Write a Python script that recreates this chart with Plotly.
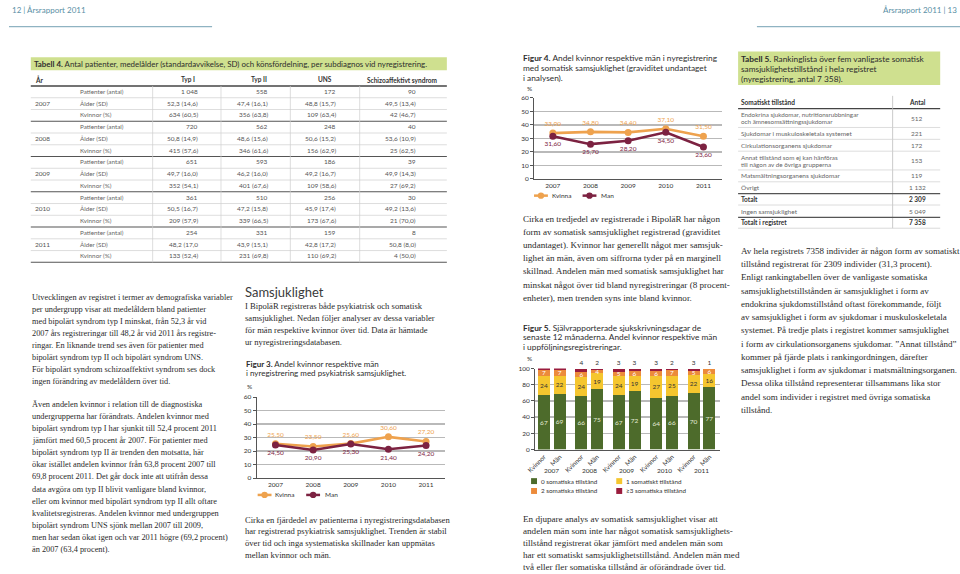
import plotly.graph_objects as go

# ======================= DATA =======================
years = ["2007", "2008", "2009", "2010", "2011"]

# Figur 3 – psykiatrisk samsjuklighet (%)
fig3_kvinna = [25.50, 23.50, 25.60, 30.60, 27.20]
fig3_man = [24.50, 20.90, 25.30, 21.40, 24.20]

# Figur 4 – somatisk samsjuklighet (%)
fig4_kvinna = [33.90, 34.80, 34.40, 37.10, 31.50]
fig4_man = [31.60, 25.70, 28.20, 34.50, 23.60]

# Figur 5 – stacked shares, order: 2007 K, 2007 M, 2008 K, ...
fig5_sex = ["Kvinnor", "Män"]
fig5_names = ["0 somatiska tillstånd", "1 somatiskt tillstånd",
              "2 somatiska tillstånd", "≥3 somatiska tillstånd"]
fig5_s0 = [67, 69, 66, 75, 67, 72, 64, 66, 70, 77]
fig5_s1 = [24, 22, 24, 19, 24, 19, 27, 25, 22, 16]
fig5_s2 = [7, 7, 6, 4, 5, 6, 6, 7, 5, 6]
fig5_s3 = [3, 3, 4, 2, 3, 3, 3, 2, 3, 1]

# Tabell 4
t4_rows = ["Patienter (antal)", "Ålder (SD)", "Kvinnor (%)"]
t4_cols = ["Typ I", "Typ II", "UNS", "Schizoaffektivt syndrom"]
t4_typ1 = ["1 048", "52,3 (14,6)", "634 (60,5)", "720", "50,8 (14,9)", "415 (57,6)",
           "651", "49,7 (16,0)", "352 (54,1)", "361", "50,5 (16,7)", "209 (57,9)",
           "254", "48,2 (17,0", "133 (52,4)"]
t4_typ2 = ["558", "47,4 (16,1)", "356 (63,8)", "562", "48,6 (15,6)", "346 (61,6)",
           "593", "46,2 (16,0)", "401 (67,6)", "510", "47,2 (15,8)", "339 (66,5)",
           "331", "43,9 (15,1)", "231 (69,8)"]
t4_uns = ["172", "48,8 (15,7)", "109 (63,4)", "248", "50,6 (15,2)", "156 (62,9)",
          "186", "49,2 (16,7)", "109 (58,6)", "256", "45,9 (17,4)", "173 (67,6)",
          "159", "42,8 (17,2)", "110 (69,2)"]
t4_schizo = ["90", "49,5 (13,4)", "42 (46,7)", "40", "53,6 (10,9)", "25 (62,5)",
             "39", "49,9 (14,3)", "27 (69,2)", "30", "49,2 (13,6)", "21 (70,0)",
             "8", "50,8 (8,0)", "4 (50,0)"]

# Tabell 5
t5_conditions = [["Endokrina sjukdomar, nutritionsrubbningar", "och ämnesomsättningssjukdomar"],
                 ["Sjukdomar i muskuloskeletala systemet"],
                 ["Cirkulationsorganens sjukdomar"],
                 ["Annat tillstånd som ej kan hänföras", "till någon av de övriga grupperna"],
                 ["Matsmältningsorganens sjukdomar"],
                 ["Övrigt"],
                 ["Totalt"],
                 ["Ingen samsjuklighet"],
                 ["Totalt i registret"]]
t5_counts = ["512", "221", "172", "153", "119", "1 132", "2 309", "5 049", "7 358"]

# Body texts
txt_left1 = ["Utvecklingen av registret i termer av demografiska variabler",
             "per undergrupp visar att medelåldern bland patienter",
             "med bipolärt syndrom typ I minskat, från 52,3 år vid",
             "2007 års registreringar till 48,2 år vid 2011 års registre-",
             "ringar. En liknande trend ses även för patienter med",
             "bipolärt syndrom typ II och bipolärt syndrom UNS.",
             "För bipolärt syndrom schizoaffektivt syndrom ses dock",
             "ingen förändring av medelåldern över tid."]
txt_left2 = ["Även andelen kvinnor i relation till de diagnostiska",
             "undergrupperna har förändrats. Andelen kvinnor med",
             "bipolärt syndrom typ I har sjunkit till 52,4 procent 2011",
             "jämfört med 60,5 procent år 2007. För patienter med",
             "bipolärt syndrom typ II är trenden den motsatta, här",
             "ökar istället andelen kvinnor från 63,8 procent 2007 till",
             "69,8 procent 2011. Det går dock inte att utifrån dessa",
             "data avgöra om typ II blivit vanligare bland kvinnor,",
             "eller om kvinnor med bipolärt syndrom typ II allt oftare",
             "kvalitetsregistreras. Andelen kvinnor med undergruppen",
             "bipolärt syndrom UNS sjönk mellan 2007 till 2009,",
             "men har sedan ökat igen och var 2011 högre (69,2 procent)",
             "än 2007 (63,4 procent)."]
txt_mid1 = ["I BipoläR registreras både psykiatrisk och somatisk",
            "samsjuklighet. Nedan följer analyser av dessa variabler",
            "för män respektive kvinnor över tid. Data är hämtade",
            "ur nyregistreringsdatabasen."]
txt_mid2 = ["Cirka en fjärdedel av patienterna i nyregistreringsdatabasen",
            "har registrerad psykiatrisk samsjuklighet. Trenden är stabil",
            "över tid och inga systematiska skillnader kan uppmätas",
            "mellan kvinnor och män."]
txt_fig4 = ["Cirka en tredjedel av registrerade i BipoläR har någon",
            "form av somatisk samsjuklighet registrerad (graviditet",
            "undantaget). Kvinnor har generellt något mer samsjuk-",
            "lighet än män, även om siffrorna tyder på en marginell",
            "skillnad. Andelen män med somatisk samsjuklighet har",
            "minskat något över tid bland nyregistreringar (8 procent-",
            "enheter), men trenden syns inte bland kvinnor."]
txt_fig5 = ["En djupare analys av somatisk samsjuklighet visar att",
            "andelen män som inte har något somatisk samsjuklighets-",
            "tillstånd registrerat ökar jämfört med andelen män som",
            "har ett somatiskt samsjuklighetstillstånd. Andelen män med",
            "två eller fler somatiska tillstånd är oförändrade över tid."]
txt_t5 = ["Av hela registrets 7358 individer är någon form av somatiskt",
          "tillstånd registrerat för 2309 individer (31,3 procent).",
          "Enligt rankingtabellen över de vanligaste somatiska",
          "samsjuklighetstillstånden är samsjuklighet i form av",
          "endokrina sjukdomstillstånd oftast förekommande, följt",
          "av samsjuklighet i form av sjukdomar i muskuloskeletala",
          "systemet. På tredje plats i registret kommer samsjuklighet",
          "i form av cirkulationsorganens sjukdomar. ”Annat tillstånd”",
          "kommer på fjärde plats i rankingordningen, därefter",
          "samsjuklighet i form av sjukdomar i matsmältningsorganen.",
          "Dessa olika tillstånd representerar tillsammans lika stor",
          "andel som individer i registret med övriga somatiska",
          "tillstånd."]

# ======================= STYLE / HELPERS =======================
W, H = 960, 574
SERIF = "Liberation Serif"
SANS = "Lato"
ORANGE = "#eea24e"
MAROON = "#7c2241"
GREEN_BAR = "#cfe08f"
C5 = ["#4d6b2b", "#f5c62f", "#ec8b3b", "#9a1c3d"]


def X(p):
    return p / W


def Y(p):
    return 1 - p / H


anns, shapes = [], []


def ann(text, x, y, size=7, family=SANS, color="#333", xanchor="left", **kw):
    anns.append(dict(text=text, x=X(x), y=Y(y), xref="paper", yref="paper",
                     xanchor=xanchor, yanchor="middle", showarrow=False,
                     font=dict(family=family, size=size, color=color), **kw))


def hline(x0, x1, y, color, width):
    shapes.append(dict(type="line", xref="paper", yref="paper", x0=X(x0), x1=X(x1),
                       y0=Y(y), y1=Y(y), line=dict(color=color, width=width)))


def vline(x, y0, y1, color, width):
    shapes.append(dict(type="line", xref="paper", yref="paper", x0=X(x), x1=X(x),
                       y0=Y(y0), y1=Y(y1), line=dict(color=color, width=width)))


def rect(x0, y0, x1, y1, fill):
    shapes.append(dict(type="rect", xref="paper", yref="paper", x0=X(x0), x1=X(x1),
                       y0=Y(y1), y1=Y(y0), fillcolor=fill, line=dict(width=0)))


def circle(cx, cy, r, fill):
    shapes.append(dict(type="circle", xref="paper", yref="paper", x0=X(cx - r), x1=X(cx + r),
                       y0=Y(cy + r), y1=Y(cy - r), fillcolor=fill, line=dict(width=0)))


def para(lines, x, y0, dy, size):
    for i, t in enumerate(lines):
        ann(t, x, y0 + i * dy, size=size, family=SERIF, color="#2a2a2a")


def fmt(v):
    return f"{v:.2f}".replace(".", ",")


# ======================= TRACES =======================
fig = go.Figure()

for vals, col, pos, ax in [(fig3_kvinna, ORANGE, "top center", ("x", "y")),
                           (fig3_man, MAROON, "bottom center", ("x", "y")),
                           (fig4_kvinna, ORANGE, "top center", ("x2", "y2")),
                           (fig4_man, MAROON, "bottom center", ("x2", "y2"))]:
    fig.add_trace(go.Scatter(
        x=years, y=vals, xaxis=ax[0], yaxis=ax[1], mode="lines+markers+text",
        line=dict(color=col, width=2.6), marker=dict(color=col, size=7),
        text=[fmt(v) for v in vals], textposition=pos,
        textfont=dict(family=SANS, size=6.5, color=col), cliponaxis=False,
        showlegend=False, hoverinfo="skip"))

bar_x = [g + off for g in range(len(years)) for off in (-0.21, 0.21)]
series5 = [fig5_s0, fig5_s1, fig5_s2, fig5_s3]
txtcol = ["#e6ecd9", "#333333", "#ffffff", "#333333"]
for i, vals in enumerate(series5):
    fig.add_trace(go.Bar(
        x=bar_x, y=vals, width=0.32, xaxis="x3", yaxis="y3", name=fig5_names[i],
        marker=dict(color=C5[i], line=dict(width=0)),
        text=[str(v) for v in vals],
        textposition="outside" if i == 3 else "inside",
        insidetextanchor="middle", textangle=0, constraintext="none",
        textfont=dict(family=SANS, size=6.5, color=txtcol[i]),
        cliponaxis=(i != 3), showlegend=False, hoverinfo="skip"))

# ======================= AXES =======================
tickf = dict(family=SANS, size=6.5, color="#333")
line_ax = dict(showline=True, linecolor="#555", linewidth=1, tickfont=tickf)
yax = dict(dtick=10, range=[0, 60], showgrid=True, gridcolor="#b9b9b9", gridwidth=1.4,
           ticks="outside", ticklen=3, tickcolor="#555", zeroline=False, **line_ax)
xax = dict(type="category", range=[-0.5, 4.5], showgrid=False, ticks="", **line_ax)

layout = dict(
    width=W, height=574, margin=dict(l=0, r=0, t=0, b=0),
    paper_bgcolor="white", plot_bgcolor="white", barmode="stack", showlegend=False,
    hovermode=False,
    xaxis=dict(domain=[X(250), X(440)], anchor="y", **xax),
    yaxis=dict(domain=[Y(480), Y(398)], anchor="x", **yax),
    xaxis2=dict(domain=[X(530), X(720)], anchor="y2", **xax),
    yaxis2=dict(domain=[Y(177), Y(95)], anchor="x2", **yax),
    xaxis3=dict(domain=[X(531), X(718)], anchor="y3", range=[-0.45, 4.5],
                tickvals=bar_x, ticktext=fig5_sex * len(years), tickangle=-45,
                showgrid=False, ticks="", **line_ax),
    yaxis3=dict(domain=[Y(451), Y(369)], anchor="x3", range=[0, 100], dtick=20,
                showgrid=True, gridcolor="#b9b9b9", gridwidth=1.4, ticks="outside",
                ticklen=3, tickcolor="#555", zeroline=False, **line_ax),
)

# ======================= PAGE HEADER =======================
ann("12 | Årsrapport 2011", 1, 6, size=8, color="#5a8fa5")
ann("Årsrapport 2011 | 13", 959, 6, size=8, color="#5a8fa5", xanchor="right")
hline(0, 205, 23, "#8fb3c2", 1.2)
hline(755, 960, 23, "#8fb3c2", 1.2)

# ======================= TABELL 4 =======================
rect(22, 54, 442, 67, GREEN_BAR)
ann("<b>Tabell 4.</b> Antal patienter, medelålder (standardavvikelse, SD) och könsfördelning, "
    "per subdiagnos vid nyregistrering.", 23, 60.5, size=7.9, color="#2d2d2d")
ann("<b>År</b>", 24, 76.5, size=6.5)
col_center = [181, 252, 319, 397]
col_right = [193, 263, 332, 413]
for c, name in enumerate(t4_cols):
    ann("<b>" + name + "</b>", col_center[c], 76.5, size=6.5, xanchor="center")
hline(22, 442, 83, "#444", 1.3)
RH = 11.9
for k in range(1, 16):
    yk = 83 + k * RH
    if k % 3 == 0:
        hline(22, 442, yk, "#555", 1.1)
    else:
        hline(22, 442, yk, "#cfcfcf", 0.7)
for vx in [145, 214, 284, 354]:
    vline(vx, 83, 83 + 15 * RH, "#cfcfcf", 0.7)
cols = [t4_typ1, t4_typ2, t4_uns, t4_schizo]
for g, yr in enumerate(years):
    ann(yr, 24, 88.5 + (g * 3 + 1) * RH, size=6.5, color="#555")
    for r, lab in enumerate(t4_rows):
        yy = 88.5 + (g * 3 + r) * RH
        ann(lab, 70, yy, size=6.3, color="#666")
        for c in range(4):
            ann(cols[c][g * 3 + r], col_right[c], yy, size=6.5, color="#555", xanchor="right")

# ======================= LEFT TEXT =======================
para(txt_left1, 21, 297, 12.2, 8.3)
para(txt_left2, 21, 405, 12.3, 8.3)

# ======================= MIDDLE: SAMSJUKLIGHET / FIGUR 3 =======================
ann("Samsjuklighet", 236, 292, size=13, color="#3a3a3a")
para(txt_mid1, 236, 306, 12.0, 8.6)
ann("<b>Figur 3.</b> Andel kvinnor respektive män", 237, 364, size=8, color="#2d2d2d")
ann("i nyregistrering med psykiatrisk samsjuklighet.", 237, 374, size=8, color="#2d2d2d")
ann("%", 238, 387, size=6.5)
para(txt_mid2, 236, 522, 12.0, 8.6)

# legends figs 3 and 4
for (lx, ly) in [(251, 497), (530, 194)]:
    hline(lx, lx + 14, ly, ORANGE, 2.5)
    circle(lx + 7, ly, 3.2, ORANGE)
    ann("Kvinna", lx + 16, ly, size=6.5)
    hline(lx + 49, lx + 63, ly, MAROON, 2.5)
    circle(lx + 56, ly, 3.2, MAROON)
    ann("Man", lx + 66, ly, size=6.5)

# ======================= FIGUR 4 =======================
ann("<b>Figur 4.</b> Andel kvinnor respektive män i nyregistrering", 517, 55, size=8.3, color="#2d2d2d")
ann("med somatisk samsjuklighet (graviditet undantaget", 517, 65, size=8.3, color="#2d2d2d")
ann("i analysen).", 517, 75, size=8.3, color="#2d2d2d")
ann("%", 521, 86, size=6.5)
para(txt_fig4, 517, 218, 13.2, 9.1)

# ======================= FIGUR 5 =======================
ann("<b>Figur 5.</b> Självrapporterade sjukskrivningsdagar de", 517, 328, size=8.3, color="#2d2d2d")
ann("senaste 12 månaderna. Andel kvinnor respektive män", 517, 337.5, size=8.3, color="#2d2d2d")
ann("i uppföljningsregistreringar.", 517, 347, size=8.3, color="#2d2d2d")
ann("%", 521, 359, size=6.5)
for g, yr in enumerate(years):
    anns.append(dict(text=yr, x=g, y=Y(472), xref="x3", yref="paper", xanchor="center",
                     yanchor="middle", showarrow=False, font=dict(family=SANS, size=6.5, color="#333")))
leg5 = [(530, 483), (616, 483), (530, 493), (616, 493)]
for i, (lx, ly) in enumerate(leg5):
    rect(lx - 3, ly - 3, lx + 3, ly + 3, C5[i])
    ann(fig5_names[i], lx + 5, ly, size=6.3)
para(txt_fig5, 517, 521, 12.3, 9.1)

# ======================= TABELL 5 =======================
rect(736, 48, 940, 82, GREEN_BAR)
ann("<b>Tabell 5.</b> Rankinglista över fem vanligaste somatisk", 737, 56, size=8.3, color="#2d2d2d")
ann("samsjuklighetstillstånd i hela registret", 737, 66, size=8.3, color="#2d2d2d")
ann("(nyregistrering, antal 7 358).", 737, 76, size=8.3, color="#2d2d2d")
ann("<b>Somatiskt tillstånd</b>", 737, 99.5, size=6.5)
ann("<b>Antal</b>", 917, 99.5, size=6.5, xanchor="center")
hline(736, 940, 106, "#444", 1.2)
vline(892, 93, 227, "#bdbdbd", 0.8)
row_mid = [115.5, 131, 143, 158.5, 174, 186, 197.5, 210, 221.5]
row_bot = [125, 137, 149, 168, 180, 192, 203.5, 216, 227]
row_line = [("#cfcfcf", 0.7)] * 5 + [("#555", 1.1), ("#cfcfcf", 0.7), ("#555", 1.1), ("#cfcfcf", 0.8)]
for i, lines in enumerate(t5_conditions):
    bold = i in (6, 8)
    if len(lines) == 2:
        ann(lines[0], 737, row_mid[i] - 3.6, size=6.3, color="#666")
        ann(lines[1], 737, row_mid[i] + 3.6, size=6.3, color="#666")
    else:
        ann("<b>" + lines[0] + "</b>" if bold else lines[0], 737, row_mid[i], size=6.5,
            color="#333" if bold else "#666")
    ann("<b>" + t5_counts[i] + "</b>" if bold else t5_counts[i], 917, row_mid[i], size=6.5,
        color="#333" if bold else "#666", xanchor="center")
    hline(736, 940, row_bot[i], row_line[i][0], row_line[i][1])
para(txt_t5, 737, 250, 13.4, 9.0)

layout["annotations"] = anns
layout["shapes"] = shapes
fig.update_layout(**layout)
fig.write_html("out.html", config={"displayModeBar": False, "staticPlot": True},
               post_script="document.body.style.margin='0px';")
